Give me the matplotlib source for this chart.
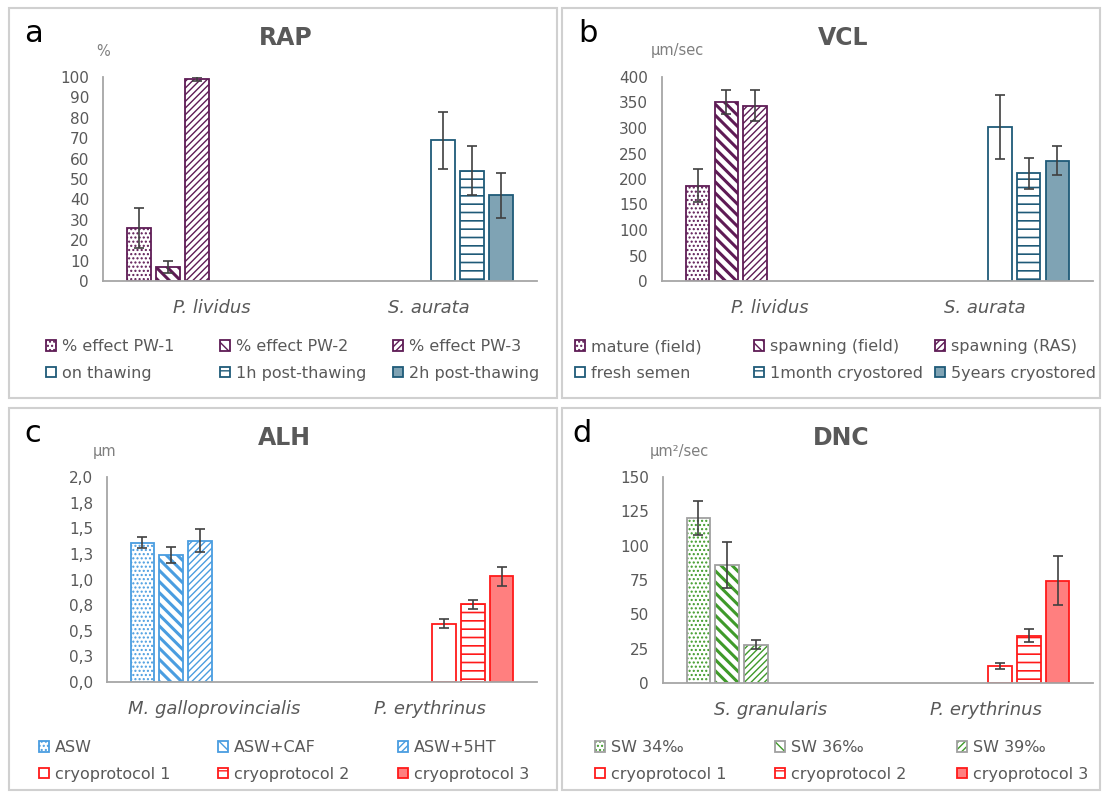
import matplotlib
matplotlib.use('Agg')
import matplotlib.pyplot as plt
from matplotlib.patches import Patch, Rectangle
from matplotlib.legend_handler import HandlerTuple

W, H = 1105, 794

# ---- data ----
rap_groups = ['P. lividus', 'S. aurata']
rap_series = ['% effect PW-1', '% effect PW-2', '% effect PW-3',
              'on thawing', '1h post-thawing', '2h post-thawing']
rap_mean = [26, 7, 99, 69, 54, 42]
rap_err = [10, 3, 1, 14, 12, 11]
rap_ticks = [0, 10, 20, 30, 40, 50, 60, 70, 80, 90, 100]

vcl_groups = ['P. lividus', 'S. aurata']
vcl_series = ['mature (field)', 'spawning (field)', 'spawning (RAS)',
              'fresh semen', '1month cryostored', '5years cryostored']
vcl_mean = [187, 351, 344, 302, 211, 236]
vcl_err = [33, 24, 31, 63, 31, 28]
vcl_ticks = [0, 50, 100, 150, 200, 250, 300, 350, 400]

alh_groups = ['M. galloprovincialis', 'P. erythrinus']
alh_series = ['ASW', 'ASW+CAF', 'ASW+5HT',
              'cryoprotocol 1', 'cryoprotocol 2', 'cryoprotocol 3']
alh_mean = [1.36, 1.24, 1.38, 0.57, 0.76, 1.03]
alh_err = [0.05, 0.08, 0.11, 0.045, 0.043, 0.09]
alh_ticks = [0, 0.25, 0.5, 0.75, 1.0, 1.25, 1.5, 1.75, 2.0]
alh_ticklabels = ['0,0', '0,3', '0,5', '0,8', '1,0', '1,3', '1,5', '1,8', '2,0']

dnc_groups = ['S. granularis', 'P. erythrinus']
dnc_series = ['SW 34‰', 'SW 36‰', 'SW 39‰',
              'cryoprotocol 1', 'cryoprotocol 2', 'cryoprotocol 3']
dnc_mean = [120, 86, 28, 12.5, 34.5, 74.5]
dnc_err = [12.5, 17, 3, 2, 4.5, 18]
dnc_ticks = [0, 25, 50, 75, 100, 125, 150]

# which category each series sits in (Excel-style clustered bars)
group_of = [0, 0, 0, 1, 1, 1]

# ---- styles ----
GRAY = '#595959'
purple = '#5e1b55'
teal = '#1f5a78'
blue = '#4a9de0'
red = '#ff1a1a'
green = '#3f9a2a'


def st(face, hatch, hc, edge, hlw=1.0):
    return dict(face=face, hatch=hatch, hc=hc, edge=edge, hlw=hlw)


style_a = [st('white', '....', purple, purple),
           st('white', '\\\\\\', purple, purple, 2.2),
           st('white', '/////', purple, purple, 1.0),
           st('white', None, teal, teal),
           st('white', '--', teal, teal, 1.2),
           st('#7fa3b4', None, teal, teal)]
style_c = [st('white', '....', blue, blue),
           st('white', '\\\\\\', blue, blue, 2.2),
           st('white', '/////', blue, blue, 1.0),
           st('white', None, red, red),
           st('white', '--', red, red, 1.2),
           st('#ff7f7f', None, red, red)]
style_d = [st('white', '....', green, '#a0a0a0'),
           st('white', '\\\\\\', green, '#a0a0a0', 2.2),
           st('white', '/////', green, '#a0a0a0', 1.0),
           st('white', None, red, red),
           st('white', '--', red, red, 1.2),
           st('#ff7f7f', None, red, red)]

slot = 0.134
barw = 0.11


def make_bar(ax, x, h, s):
    plt.rcParams['hatch.linewidth'] = s['hlw']
    b1 = ax.bar(x, h, width=barw, color=s['face'], edgecolor=s['hc'],
                hatch=s['hatch'], linewidth=0)
    if hasattr(b1[0], 'set_hatch_linewidth'):
        b1[0].set_hatch_linewidth(s['hlw'])
    ax.bar(x, h, width=barw, fill=False, edgecolor=s['edge'], linewidth=1.3)


def draw_panel(box, groups, mean, err, styles, ticks, ticklabels=None):
    l, t, r, b = box
    ax = fig.add_axes([l / W, 1 - b / H, (r - l) / W, (b - t) / H])
    for i in range(6):
        x = group_of[i] + (i - 2.5) * slot
        make_bar(ax, x, mean[i], styles[i])
        ax.errorbar(x, mean[i], yerr=err[i], fmt='none', ecolor='#404040',
                    elinewidth=1.2, capsize=3.5, capthick=1.2)
    ax.set_xlim(-0.5, 1.5)
    ax.set_ylim(ticks[0], ticks[-1])
    ax.set_yticks(ticks)
    if ticklabels is not None:
        ax.set_yticklabels(ticklabels)
    ax.set_xticks([0, 1])
    ax.set_xticklabels(groups, fontstyle='italic', fontsize=13, color=GRAY)
    ax.tick_params(axis='x', length=0, pad=13)
    ax.tick_params(axis='y', length=0, pad=10, labelsize=11, labelcolor=GRAY)
    for sp in ['top', 'right']:
        ax.spines[sp].set_visible(False)
    for sp in ['left', 'bottom']:
        ax.spines[sp].set_color('#a6a6a6')
        ax.spines[sp].set_linewidth(1.3)
    ax.patch.set_alpha(0)
    return ax


def draw_legend(series, styles, xs, ymid):
    hs = []
    for i in range(6):
        s = styles[i]
        p1 = Patch(facecolor=s['face'], edgecolor=s['hc'], hatch=s['hatch'], linewidth=0)
        p2 = Patch(fill=False, edgecolor=s['edge'], linewidth=1.3)
        hs.append((p1, p2))
    for j in range(3):
        fig.legend([hs[j], hs[j + 3]], [series[j], series[j + 3]],
                   loc='center left', bbox_to_anchor=(xs[j] / W, 1 - ymid / H),
                   frameon=False, handlelength=0.65, handleheight=0.65,
                   handletextpad=0.35, labelspacing=0.72, borderpad=0,
                   borderaxespad=0, fontsize=11.5, labelcolor=GRAY,
                   handler_map={tuple: HandlerTuple(ndivide=1, pad=0)})


def frame(l, t, r, b):
    fig.add_artist(Rectangle((l / W, 1 - b / H), (r - l) / W, (b - t) / H,
                             transform=fig.transFigure, fill=False,
                             edgecolor='#d0d0d0', linewidth=1.5))


def ftext(x, y, s, **kw):
    fig.text(x / W, 1 - y / H, s, ha='center', va='center', **kw)


fig = plt.figure(figsize=(W / 100, H / 100), dpi=100)

frame(9, 8, 557, 398)
frame(562, 8, 1100, 398)
frame(9, 408, 557, 790)
frame(562, 408, 1100, 790)

draw_panel((103, 77, 537, 281), rap_groups, rap_mean, rap_err, style_a, rap_ticks)
draw_panel((662, 77, 1093, 281), vcl_groups, vcl_mean, vcl_err, style_a, vcl_ticks)
draw_panel((107, 477, 537, 682), alh_groups, alh_mean, alh_err, style_c, alh_ticks, alh_ticklabels)
draw_panel((663, 477, 1093, 683), dnc_groups, dnc_mean, dnc_err, style_d, dnc_ticks)

draw_legend(rap_series, style_a, [46, 220, 393], 360)
draw_legend(vcl_series, style_a, [575, 754, 935], 360)
draw_legend(alh_series, style_c, [39, 218, 398], 761)
draw_legend(dnc_series, style_d, [595, 775, 957], 761)

# panel letters, titles and units
for x, y, s in [(33, 33, 'a'), (588, 33, 'b'), (33, 433, 'c'), (582, 433, 'd')]:
    ftext(x, y, s, fontsize=22, color='black')
for x, y, s in [(286, 38, 'RAP'), (843, 38, 'VCL'), (284, 438, 'ALH'), (841, 438, 'DNC')]:
    ftext(x, y, s, fontsize=17, fontweight='bold', color=GRAY)
for x, y, s in [(103, 52, '%'), (677, 51, 'µm/sec'), (105, 452, 'µm'), (679, 452, 'µm²/sec')]:
    ftext(x, y, s, fontsize=10.5, color='#7f7f7f')

fig.savefig('out.png', dpi=100)
